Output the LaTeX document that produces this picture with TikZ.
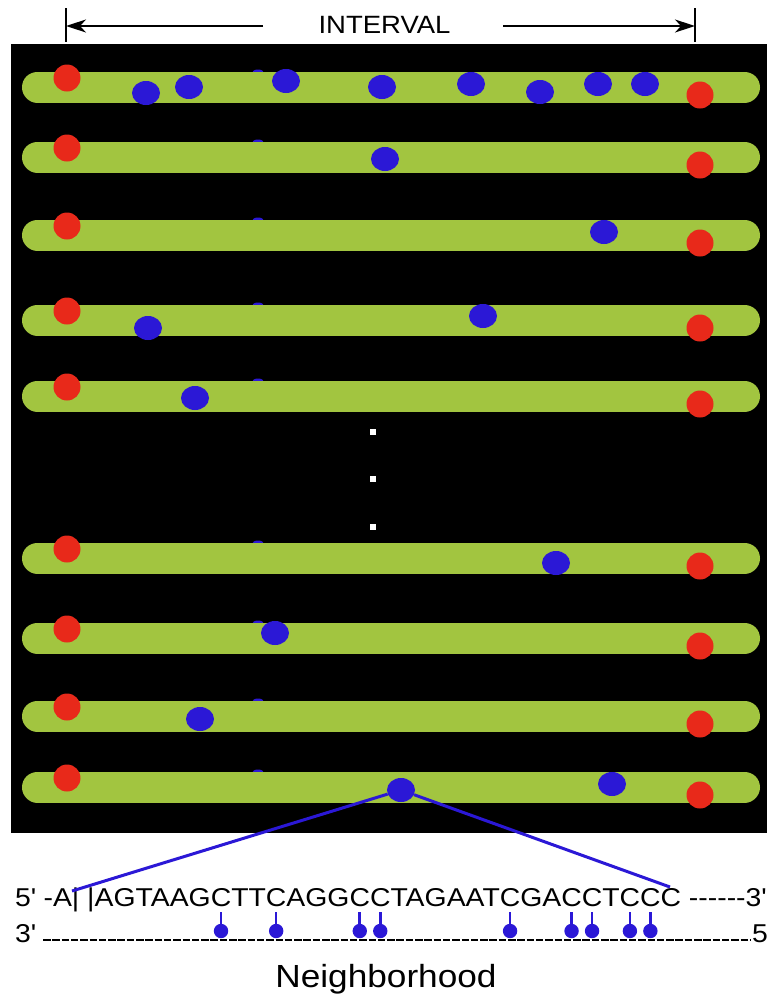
\documentclass[tikz,border=0pt]{standalone}
\usepackage{fontspec}
\usetikzlibrary{shapes.geometric,calc,arrows.meta}
\newfontfamily\arialx[FakeStretch=1.1]{Liberation Sans}
\definecolor{barg}{RGB}{162,197,64}
\definecolor{dotr}{RGB}{232,41,26}
\definecolor{dotb}{RGB}{43,24,214}
\newcommand\hyps[1]{\foreach \k in {1,...,#1}{-}}
\begin{document}
\begin{tikzpicture}[x=1pt,y=-1pt,
  bar/.style={line width=31pt, line cap=round, draw=barg},
  rdot/.style={circle, fill=dotr, minimum size=27pt, inner sep=0pt},
  bdot/.style={ellipse, fill=dotb, minimum width=28pt, minimum height=24pt, inner sep=0pt},
  seq/.style={inner sep=0pt, outer sep=0pt, anchor=base west, font=\arialx\fontsize{25.8}{30}\selectfont},
  lolli/.style={draw=dotb, line width=2.6pt},
  zoomline/.style={draw=dotb, line width=3pt},
  dim/.style={line width=1.6pt, draw=black}]
\useasboundingbox (0,0) rectangle (767,999);
% black panel
\fill[black] (11,44) rectangle (767,833);
% bars with markers
\foreach \y [count=\i] in {87,157,235,320,396,558,638,716,787} {
  \fill[dotb] (258,\y-14) ellipse (6 and 3.5);
  \draw[bar] (37.5,\y) -- (744.5,\y);
  \node[rdot] (rl\i) at (67,\y-9) {};
  \node[rdot] (rr\i) at (700,\y+8) {};
}
% blue dots
\foreach \p [count=\j] in {(146,93),(189,87),(286,81),(382,87),(471,84),(540,92),(598,84),(645,84),
  (385,159),(604,232),(148,328),(483,316),(195,398),(556,563),(275,633),(200,719),(401,790),(612,784)} {
  \node[bdot] (b\j) at \p {};
}
% vertical ellipsis
\foreach \y in {432,479,527} { \fill[white] (370,\y-3) rectangle +(6,6); }
% interval
\node[anchor=base, font=\arialx\fontsize{25}{30}\selectfont, inner sep=0pt] (intv) at (384.5,33) {INTERVAL};
\coordinate (Ltop) at (66,8); \coordinate (Lbot) at (66,42);
\coordinate (Rtop) at (695,8); \coordinate (Rbot) at (695,42);
\coordinate (L) at (66,26); \coordinate (R) at (695,26);
\coordinate (la) at (263,26); \coordinate (ra) at (503,26);
\draw[dim] (Ltop) -- (Lbot);
\draw[dim] (Rtop) -- (Rbot);
\draw[dim, -{Stealth[length=20pt, width=13pt, inset=6pt]}] (la) -- (L);
\draw[dim, -{Stealth[length=20pt, width=13pt, inset=6pt]}] (ra) -- (R);
% sequence
\node[seq] (s0) at (15,906) {5\textquotesingle\ -A| |AGTAAG};
\node[seq] (c1) at (s0.base east) {C};
\node[seq] (s1) at (c1.base east) {TT};
\node[seq] (c2) at (s1.base east) {C};
\node[seq] (s2) at (c2.base east) {AGG};
\node[seq] (c3) at (s2.base east) {C};
\node[seq] (c4) at (c3.base east) {C};
\node[seq] (s3) at (c4.base east) {TAGAAT};
\node[seq] (c5) at (s3.base east) {C};
\node[seq] (s4) at (c5.base east) {GA};
\node[seq] (c6) at (s4.base east) {C};
\node[seq] (c7) at (c6.base east) {C};
\node[seq] (s5) at (c7.base east) {T};
\node[seq] (c8) at (s5.base east) {C};
\node[seq] (c9) at (c8.base east) {C};
\node[seq] (s6) at (c9.base east) {C \hyps{6}3\textquotesingle};
\node[seq] (t3) at (15,942) {3\textquotesingle};
\node[seq] (t5) at (752,942) {5};
\coordinate (dl) at (43,940); \coordinate (dr) at (751,940);
\draw[line width=2.5pt, dash pattern=on 7.5pt off 1.8pt] (dl) -- (dr);
\foreach \c in {1,...,9} {
  \draw[lolli] ($(c\c.base)+(0,6)$) -- ($(c\c.base)+(0,25)$);
  \fill[dotb] ($(c\c.base)+(0,25)$) circle (7.2);
}
% zoom lines
\coordinate (zl) at (72,891);
\coordinate (zr) at (670,887);
\draw[zoomline] (b17) -- (zl);
\draw[zoomline] (b17) -- (zr);
\node[anchor=base, font=\arialx\fontsize{32}{38}\selectfont, inner sep=0pt] (nb) at (386,987) {Neighborhood};
\end{tikzpicture}
\end{document}
